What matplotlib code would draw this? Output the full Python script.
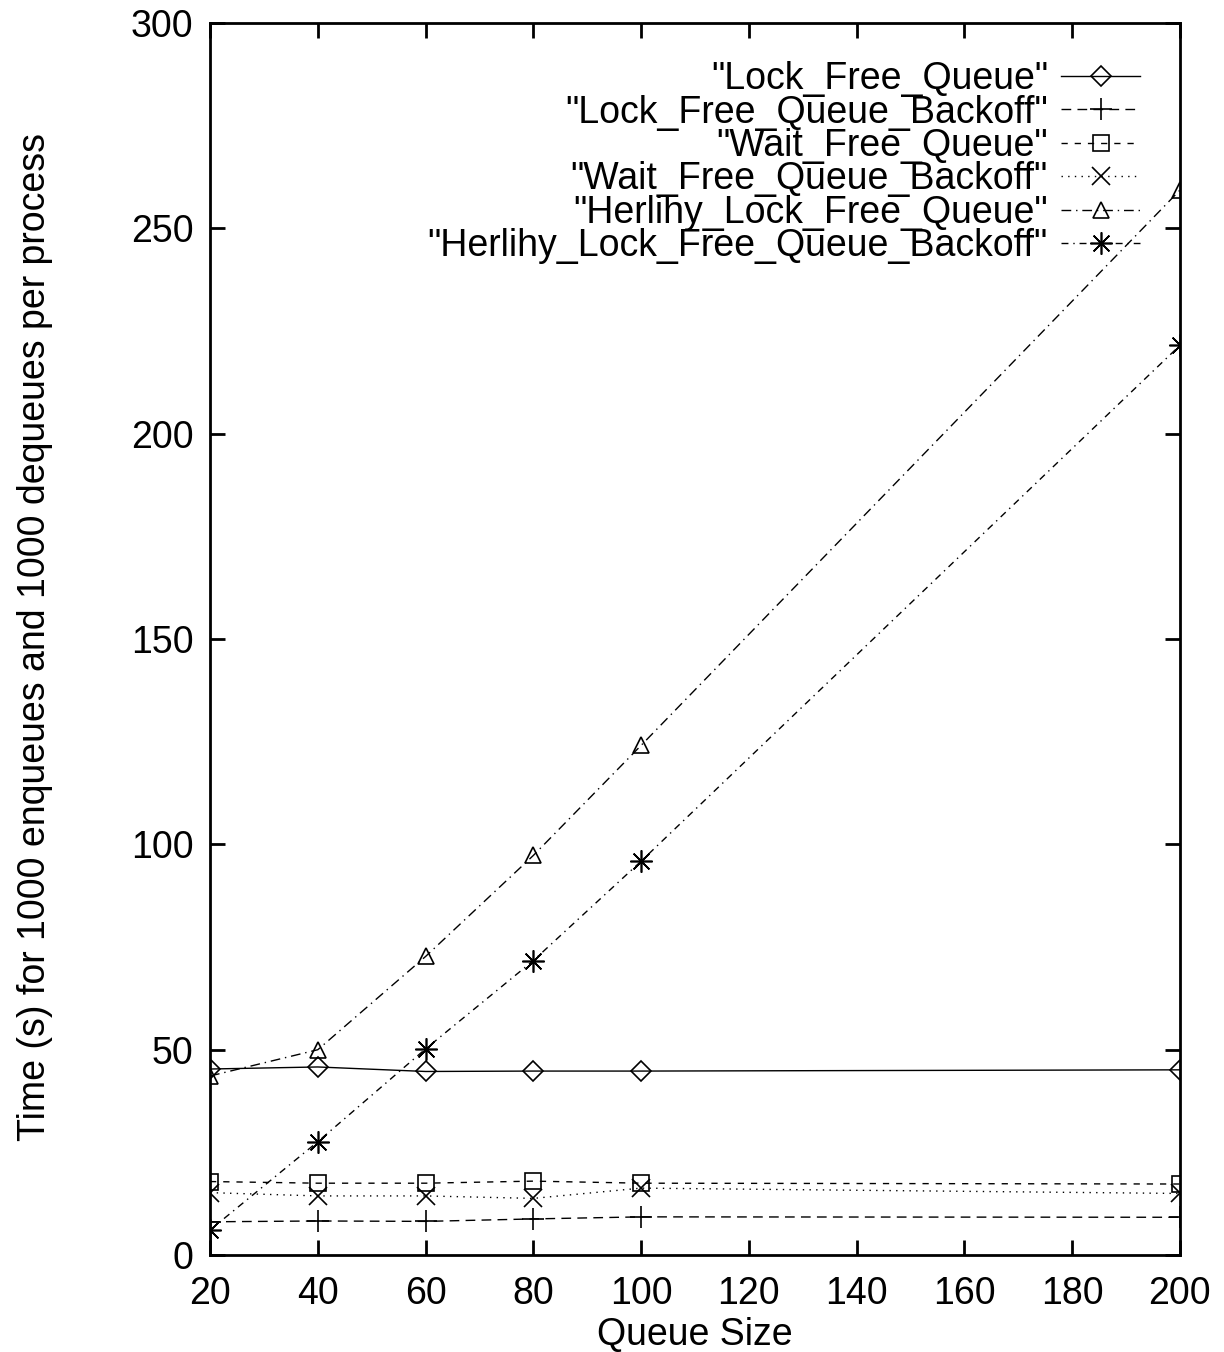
import matplotlib
matplotlib.use("Agg")
import matplotlib.pyplot as plt

plt.rcParams['font.family'] = ['Liberation Sans', 'DejaVu Sans']

queue_size = [20, 40, 60, 80, 100, 200]

lock_free = [45.3, 45.8, 44.7, 44.8, 44.8, 45.1]
lock_free_backoff = [8.1, 8.3, 8.2, 8.8, 9.3, 9.2]
wait_free = [17.9, 17.5, 17.5, 18.0, 17.5, 17.3]
wait_free_backoff = [15.2, 14.4, 14.4, 13.8, 16.3, 15.0]
herlihy = [43.6, 50.0, 72.7, 97.3, 124.1, 259.3]
herlihy_backoff = [6.1, 27.6, 50.2, 71.7, 95.9, 221.5]

labels = ['"Lock_Free_Queue"', '"Lock_Free_Queue_Backoff"', '"Wait_Free_Queue"',
          '"Wait_Free_Queue_Backoff"', '"Herlihy_Lock_Free_Queue"',
          '"Herlihy_Lock_Free_Queue_Backoff"']

fs = 27

fig = plt.figure(figsize=(12.24, 13.52), dpi=100)
ax = fig.add_axes([0.1716, 0.0717, 0.7924, 0.9113])

lw = 1.0
ax.plot(queue_size, lock_free, color='black', lw=lw, linestyle='-',
        marker='D', ms=10, mfc='none', mec='black', mew=1.2, label=labels[0])
ax.plot(queue_size, lock_free_backoff, color='black', lw=lw, linestyle=(0, (7, 4.5)),
        marker='+', ms=16, mew=1.2, label=labels[1])
ax.plot(queue_size, wait_free, color='black', lw=lw, linestyle=(0, (4.5, 5)),
        marker='s', ms=12, mfc='none', mec='black', mew=1.2, label=labels[2])
ax.plot(queue_size, wait_free_backoff, color='black', lw=lw, linestyle=(0, (1, 3.8)),
        marker='x', ms=13, mew=1.2, label=labels[3])
ax.plot(queue_size, herlihy, color='black', lw=lw, linestyle=(0, (7, 3.5, 1, 3.5)),
        marker='^', ms=12, mfc='none', mec='black', mew=1.2, label=labels[4])
ax.plot(queue_size, herlihy_backoff, color='black', lw=lw, linestyle=(0, (5, 3.5, 1, 3.5)),
        marker=(8, 2, 0), ms=16, mew=1.2, label=labels[5])

ax.set_xlim(20, 200)
ax.set_ylim(0, 300)
ax.set_xticks([20, 40, 60, 80, 100, 120, 140, 160, 180, 200])
ax.set_yticks([0, 50, 100, 150, 200, 250, 300])

for s in ax.spines.values():
    s.set_linewidth(2)
ax.tick_params(direction='in', length=11, width=2, labelsize=fs,
               top=True, right=True)
ax.tick_params(axis='x', pad=15)
ax.tick_params(axis='y', pad=12)

ax.set_xlabel("Queue Size", fontsize=fs)
ax.set_ylabel("Time (s) for 1000 enqueues and 1000 dequeues per process", fontsize=fs)
ax.xaxis.set_label_coords(0.5, -0.05)
ax.yaxis.set_label_coords(-0.162, 0.502)

leg = ax.legend(loc='upper right', bbox_to_anchor=(0.959, 0.969), frameon=False,
                fontsize=fs, markerfirst=False, handlelength=2.1,
                handletextpad=0.36, labelspacing=-0.07, borderaxespad=0,
                borderpad=0)

fig.savefig('out.png', dpi=100)
